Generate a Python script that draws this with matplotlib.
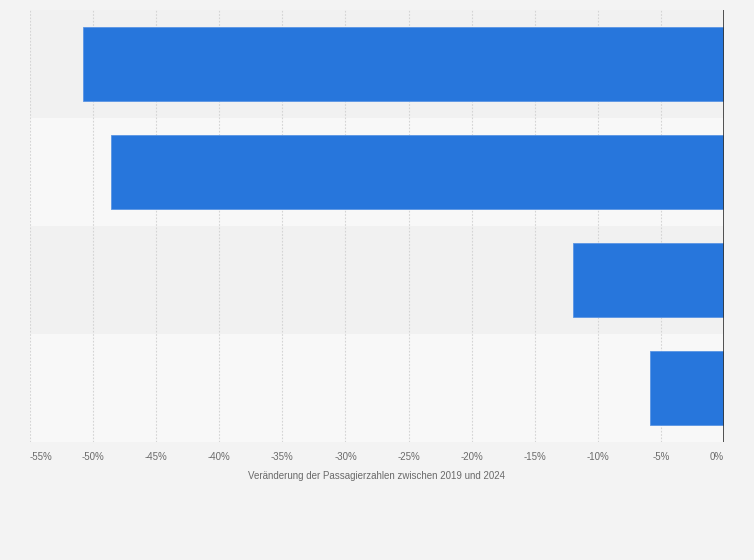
import matplotlib
matplotlib.use("Agg")
import matplotlib.pyplot as plt
import numpy as np

# Data (category labels are not shown in the reference)
categories = ["1", "2", "3", "4"]
values = [-50.8, -48.6, -12.0, -5.9]
xticks = [-55, -50, -45, -40, -35, -30, -25, -20, -15, -10, -5, 0]
xtick_labels = [f"{t}%" for t in xticks]
xlabel = "Veränderung der Passagierzahlen zwischen 2019 und 2024"

bg = "#f3f3f3"
fig = plt.figure(figsize=(7.54, 5.6), dpi=100, facecolor=bg)
ax = fig.add_axes([30/754, 1 - 442/560, 694/754, 432/560])
ax.set_facecolor("none")

n = len(categories)
y = np.arange(n)
ax.set_xlim(-55, 0)
ax.set_ylim(n - 0.5, -0.5)

# alternating bands
for i in range(n):
    col = "#f1f1f1" if i % 2 == 0 else "#f8f8f8"
    ax.axhspan(i - 0.5, i + 0.5, color=col, zorder=0, lw=0)

# grid
for t in xticks[:-1]:
    ax.axvline(t, color="#d4d4d4", lw=0.8, ls=(0, (1.5, 1.5)), zorder=1)

ax.barh(y, values, height=0.685, color="#2776dc", edgecolor="#5a95e4",
        linewidth=0.6, zorder=2)

ax.axvline(0, color="#333333", lw=1.2, zorder=3)

for s in ax.spines.values():
    s.set_visible(False)
ax.set_yticks([])
ax.set_xticks(xticks)
ax.set_xticklabels([])
ax.tick_params(axis="x", length=0)

for t, lab in zip(xticks, xtick_labels):
    ha = "center"
    if t == xticks[0]:
        ha = "left"
    elif t == xticks[-1]:
        ha = "right"
    ax.annotate(lab, xy=(t, 0), xycoords=("data", "axes fraction"),
                xytext=(0, -11), textcoords="offset points", ha=ha, va="center",
                fontsize=7, color="#6a6a6a", family="Liberation Sans")

ax.annotate(xlabel, xy=(0.5, 0), xycoords="axes fraction",
            xytext=(0, -24.5), textcoords="offset points", ha="center", va="center",
            fontsize=7, color="#6a6a6a", family="Liberation Sans")

fig.savefig("out.png", dpi=100, facecolor=bg)
